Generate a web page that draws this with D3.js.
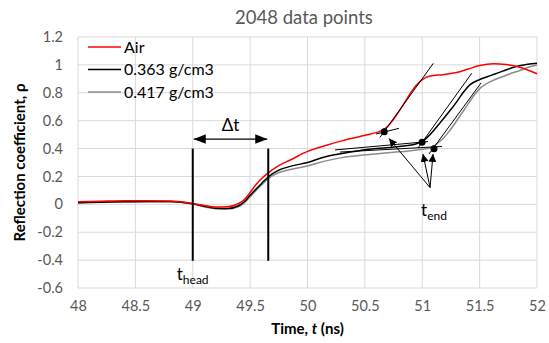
<!DOCTYPE html>
<html><head><meta charset="utf-8">
<script src="https://cdn.jsdelivr.net/npm/d3@7"></script>
<style>body{margin:0;background:#fff}svg{display:block}text{font-family:Lato,"Open Sans",sans-serif}</style>
</head><body>
<script>
// ---- data ----
const seriesNames = ["Air", "0.363 g/cm3", "0.417 g/cm3"];
const airT = [48.0,48.2,48.4,48.6,48.8,48.9,49.0,49.1,49.2,49.3,49.4,49.45,49.5,49.55,49.6,49.66,49.75,49.85,50.0,50.15,50.3,50.45,50.55,50.65,50.7,50.75,50.8,50.85,50.9,50.95,51.0,51.07,51.18,51.3,51.4,51.5,51.62,51.73,51.85,52.0];
const airV = [0.018,0.022,0.025,0.025,0.024,0.018,0.006,-0.008,-0.02,-0.018,0.006,0.035,0.085,0.14,0.185,0.228,0.278,0.318,0.38,0.42,0.455,0.485,0.505,0.53,0.56,0.61,0.67,0.735,0.8,0.855,0.895,0.92,0.93,0.945,0.97,0.995,1.008,1.003,0.983,0.936];
const d363T = [48.0,48.2,48.4,48.6,48.8,48.9,49.0,49.1,49.2,49.3,49.4,49.45,49.5,49.6,49.66,49.75,49.85,50.0,50.15,50.3,50.45,50.6,50.8,50.95,51.03,51.1,51.17,51.23,51.3,51.36,51.42,51.5,51.6,51.7,51.82,51.92,52.0];
const d363V = [0.012,0.015,0.018,0.02,0.02,0.015,0.004,-0.014,-0.028,-0.03,-0.01,0.02,0.065,0.15,0.198,0.245,0.272,0.3,0.34,0.365,0.385,0.4,0.415,0.435,0.47,0.53,0.6,0.66,0.735,0.805,0.86,0.895,0.925,0.955,0.988,1.005,1.012];
const d417T = [48.0,48.4,48.8,49.0,49.1,49.2,49.3,49.4,49.45,49.5,49.6,49.66,49.75,49.85,50.0,50.15,50.3,50.5,50.7,50.9,51.0,51.07,51.12,51.18,51.24,51.33,51.4,51.45,51.5,51.56,51.62,51.7,51.76,51.85,51.93,52.0];
const d417V = [0.012,0.018,0.018,0.002,-0.018,-0.032,-0.034,-0.016,0.01,0.055,0.138,0.186,0.228,0.25,0.275,0.31,0.335,0.355,0.37,0.385,0.395,0.405,0.43,0.47,0.53,0.635,0.72,0.78,0.83,0.865,0.89,0.915,0.935,0.96,0.985,1.0];
const xTicks = [48,48.5,49,49.5,50,50.5,51,51.5,52];
const yTicks = [-0.6,-0.4,-0.2,0,0.2,0.4,0.6,0.8,1,1.2];
// annotations (data units)
const tangents = [
  [[50.632,0.481],[51.096,1.011]], [[50.597,0.504],[50.797,0.545]],
  [[50.963,0.404],[51.431,0.94]],  [[50.24,0.39],[51.05,0.45]],
  [[51.059,0.361],[51.512,0.87]],  [[50.283,0.375],[51.172,0.415]]
];
const endDots = [[50.669,0.521],[50.998,0.445],[51.102,0.399]];
const arrowFrom = [51.068,0.12];
const arrowTips = [[50.71,0.472],[51.006,0.361],[51.094,0.361]];
const markerT = [49.0, 49.658];
const markerV = [0.4, -0.405];
const deltaV = 0.468;

// ---- layout ----
const W = 549, H = 343;
const L = 78, R = 537, T = 37, B = 288;
const x = d3.scaleLinear().domain([48,52]).range([L,R]);
const y = d3.scaleLinear().domain([-0.6,1.2]).range([B,T]);
const svg = d3.select("body").append("svg").attr("width",W).attr("height",H);
const defs = svg.append("defs");
defs.append("marker").attr("id","ah").attr("viewBox","0 0 10 10").attr("refX",10).attr("refY",5)
  .attr("markerWidth",8).attr("markerHeight",8).attr("markerUnits","userSpaceOnUse").attr("orient","auto-start-reverse")
  .append("path").attr("d","M0,0L10,5L0,10Z").attr("fill","#000");
defs.append("marker").attr("id","ah2").attr("viewBox","0 0 10 10").attr("refX",10).attr("refY",5)
  .attr("markerWidth",12).attr("markerHeight",12).attr("markerUnits","userSpaceOnUse").attr("orient","auto-start-reverse")
  .append("path").attr("d","M0,1L10,5L0,9Z").attr("fill","#000");

// grid
svg.append("g").selectAll("line").data(xTicks).join("line")
  .attr("x1",d=>x(d)).attr("x2",d=>x(d)).attr("y1",T).attr("y2",B).attr("stroke","#d9d9d9").attr("stroke-width",1);
svg.append("g").selectAll("line").data(yTicks).join("line")
  .attr("x1",L).attr("x2",R).attr("y1",d=>y(d)).attr("y2",d=>y(d)).attr("stroke","#d9d9d9").attr("stroke-width",1);

// axes labels via d3 axes
const xa = svg.append("g").attr("transform",`translate(0,${B})`)
  .call(d3.axisBottom(x).tickValues(xTicks).tickSize(0).tickPadding(13).tickFormat(d=>d));
const ya = svg.append("g").attr("transform",`translate(${L},0)`)
  .call(d3.axisLeft(y).tickValues(yTicks).tickSize(0).tickPadding(15).tickFormat(d=>d));
[xa,ya].forEach(a=>{a.select(".domain").remove();a.selectAll("text").attr("fill","#595959").attr("font-size",14.5).attr("font-family","Lato,sans-serif");});

// series
const line = d3.line().x(d=>x(d[0])).y(d=>y(d[1])).curve(d3.curveMonotoneX);
const series = [
  {name:seriesNames[0], pts:d3.zip(airT,airV), color:"#ff0000"},
  {name:seriesNames[1], pts:d3.zip(d363T,d363V), color:"#000000"},
  {name:seriesNames[2], pts:d3.zip(d417T,d417V), color:"#8c8c8c"}
];
[series[2],series[1],series[0]].forEach(s=>{
  svg.append("path").attr("d",line(s.pts)).attr("fill","none").attr("stroke",s.color).attr("stroke-width",1.5);
});

// tangents
svg.append("g").selectAll("line").data(tangents).join("line")
  .attr("x1",d=>x(d[0][0])).attr("y1",d=>y(d[0][1])).attr("x2",d=>x(d[1][0])).attr("y2",d=>y(d[1][1]))
  .attr("stroke","#000").attr("stroke-width",1);
svg.append("g").selectAll("circle").data(endDots).join("circle")
  .attr("cx",d=>x(d[0])).attr("cy",d=>y(d[1])).attr("r",3.5).attr("fill","#000");
svg.append("g").selectAll("line").data(arrowTips).join("line")
  .attr("x1",x(arrowFrom[0])).attr("y1",y(arrowFrom[1])).attr("x2",d=>x(d[0])).attr("y2",d=>y(d[1]))
  .attr("stroke","#000").attr("stroke-width",1).attr("marker-end","url(#ah)");

// markers
svg.append("g").selectAll("line").data(markerT).join("line")
  .attr("x1",d=>x(d)).attr("x2",d=>x(d)).attr("y1",y(markerV[0])).attr("y2",y(markerV[1]))
  .attr("stroke","#000").attr("stroke-width",2);
svg.append("line").attr("x1",x(markerT[0])+1).attr("x2",x(markerT[1])-1).attr("y1",y(deltaV)).attr("y2",y(deltaV))
  .attr("stroke","#000").attr("stroke-width",1.2).attr("marker-start","url(#ah2)").attr("marker-end","url(#ah2)");
svg.append("text").attr("x",(x(markerT[0])+x(markerT[1]))/2).attr("y",y(deltaV)-8).attr("text-anchor","middle")
  .attr("font-size",17).attr("fill","#000").text("\u0394t");

// t labels
const th = svg.append("text").attr("x",x(markerT[0])-16).attr("y",280).attr("font-size",17).attr("fill","#000");
th.append("tspan").text("t");
th.append("tspan").attr("font-size",12).attr("dy",4).text("head");
const te = svg.append("text").attr("x",x(arrowFrom[0])-9).attr("y",216).attr("font-size",17).attr("fill","#000");
te.append("tspan").text("t");
te.append("tspan").attr("font-size",12).attr("dy",4).text("end");

// legend
series.forEach((s,i)=>{
  const ly = 47 + i*22.5;
  svg.append("line").attr("x1",88).attr("x2",121).attr("y1",ly).attr("y2",ly).attr("stroke",s.color).attr("stroke-width",1.5);
  svg.append("text").attr("x",124).attr("y",ly+5.5).attr("font-size",16).attr("fill","#000").text(s.name);
});

// titles
svg.append("text").attr("x",304).attr("y",24).attr("text-anchor","middle").attr("font-size",18.5).attr("fill","#595959").text("2048 data points");
const xt = svg.append("text").attr("x",(L+R)/2).attr("y",334).attr("text-anchor","middle").attr("font-size",15).attr("font-weight","bold").attr("fill","#000");
xt.append("tspan").text("Time, ");
xt.append("tspan").attr("font-style","italic").text("t");
xt.append("tspan").text(" (ns)");
svg.append("text").attr("transform",`translate(25,${(T+B)/2}) rotate(-90)`).attr("text-anchor","middle")
  .attr("font-size",15).attr("font-weight","bold").attr("fill","#000").text("Reflection coefficient, \u03c1");
</script>
</body></html>
